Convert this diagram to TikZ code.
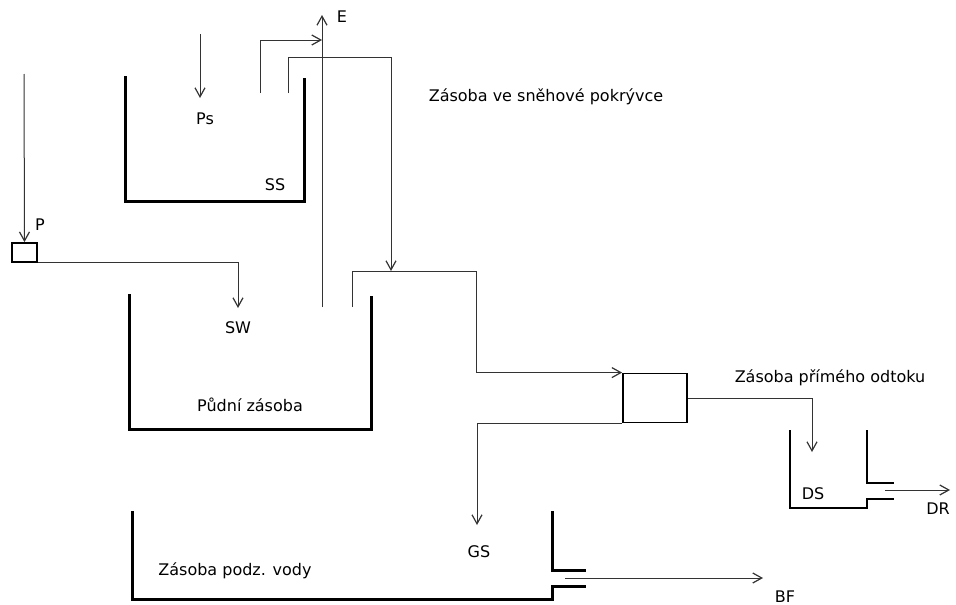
\documentclass[tikz,border=0pt]{standalone}
\usepackage{fontspec}
\setmainfont{DejaVu Sans}
\usetikzlibrary{arrows.meta}
\tikzset{
	flow/.style={draw=black!80, line width=1pt, -{Straight Barb[length=9pt,width=10pt,line width=1.2pt]}},
	pipe/.style={draw=black!80, line width=1pt},
	wall/.style={line width=3pt, line cap=rect},
	thinwall/.style={line width=1.8pt},
	box/.style={draw, line width=1.8pt, inner sep=0pt},
	lbl/.style={inner sep=0pt, font=\fontsize{16}{19}\selectfont}
}
\begin{document}
\begin{tikzpicture}[x=1pt, y=-1pt]
		\useasboundingbox (0,0) rectangle (956,605);

		\draw[wall] (125,77) -- (125,201) -- (304,201) -- (304,79);
		\draw[wall] (129,295) -- (129,429) -- (371,429) -- (371,297);
		\draw[wall] (132,512) -- (132,599) -- (552,599) -- (552,586) -- (584,586);
		\draw[wall] (552,512) -- (552,570) -- (584,570);
		\draw[thinwall] (790,430) -- (790,508) -- (867,508) -- (867,499) -- (894,499);
		\draw[thinwall] (867,430) -- (867,483) -- (894,483);

		\node[box, minimum width=25pt, minimum height=19pt] (pbox) at (24.5,252.5) {};
		\node[box, minimum width=64pt, minimum height=49pt] (split) at (655,398) {};

		\coordinate (rainP) at (24,74);
		\coordinate (rainS) at (200,34);
		\coordinate (psIn) at (200,98);
		\coordinate (swIn) at (238,308);
		\coordinate (ssE) at (260,93);
		\coordinate (eJoin) at (322,40);
		\coordinate (swE) at (322,307);
		\coordinate (eTop) at (322,15);
		\coordinate (ssM) at (288,93);
		\coordinate (meltTurn) at (391,57);
		\coordinate (meltIn) at (391,271);
		\coordinate (swQ) at (352,307);
		\coordinate (qTurn) at (476,271);
		\coordinate (gsIn) at (477,525);
		\coordinate (dsIn) at (812,452);
		\coordinate (drOut) at (885,490);
		\coordinate (drEnd) at (950,490);
		\coordinate (bfOut) at (565,578);
		\coordinate (bfEnd) at (763,578);

		\draw[flow] (rainP) -- (pbox.north);
		\draw[flow] (rainS) -- (psIn);
		\draw[flow] (pbox.south east) -| (swIn);
		\draw[flow] (ssE) |- (eJoin);
		\draw[flow] (swE) -- (eTop);
		\draw[flow] (ssM) |- (meltTurn) -- (meltIn);
		\draw[flow] (swQ) |- (qTurn) |- (split.north west);
		\draw[flow] (split.south west) -| (gsIn);
		\draw[flow] (split.east) -| (dsIn);
		\draw[flow] (drOut) -- (drEnd);
		\draw[flow] (bfOut) -- (bfEnd);

		\node[lbl] (lP) at (40,225) {P};
		\node[lbl] (lPs) at (205,119) {Ps};
		\node[lbl] (lSS) at (275,185) {SS};
		\node[lbl] (lE) at (342,17) {E};
		\node[lbl] (lSW) at (238,328) {SW};
		\node[lbl] (lSoil) at (250,405) {Půdní zásoba};
		\node[lbl] (lSnow) at (546,97) {Zásoba ve sněhové pokrývce};
		\node[lbl] (lDirect) at (830,378) {Zásoba přímého odtoku};
		\node[lbl] (lDS) at (813,494) {DS};
		\node[lbl] (lDR) at (938,509) {DR};
		\node[lbl] (lGS) at (479,552) {GS};
		\node[lbl] (lGround) at (235,571) {Zásoba podz. vody};
		\node[lbl] (lBF) at (785,597) {BF};
	\end{tikzpicture}
\end{document}
